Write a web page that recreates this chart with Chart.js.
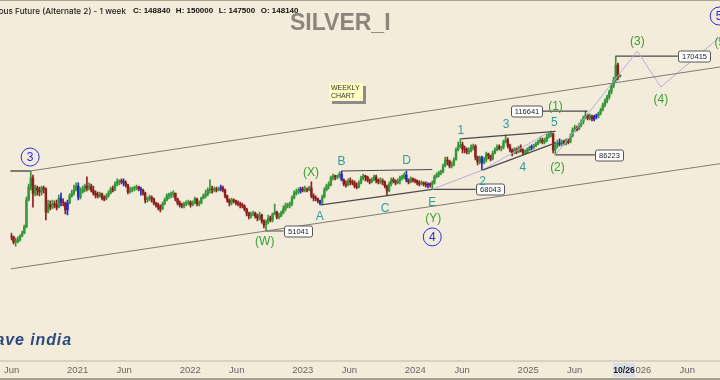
<!DOCTYPE html>
<html lang="en">
<head>
  <meta charset="UTF-8" />
  <title>SILVER_I - 1 week</title>
  <script src="https://cdn.jsdelivr.net/npm/chart.js"></script>
  <style>
    html, body { margin: 0; padding: 0; background: #f4ecda; }
    #wrap { position: relative; width: 720px; height: 380px; overflow: hidden; background: #f4ecda; }
    #chart { position: absolute; left: 0; top: 0; }
    .txt { position: absolute; white-space: nowrap; line-height: 1; }
    #topline { position: absolute; left: 0; top: 0; width: 720px; height: 1px; background: #aaa396; }
    #title { top: 6px; right: 594px; font: 500 8.2px Inter, "Liberation Sans", sans-serif; color: #1d1d1d; }
    #ohlc { top: 6px; left: 133px; font: bold 8px "Liberation Sans", Arial, sans-serif; color: #111; }
    #ohlc span { margin-right: 5.5px; }
    #symbol { top: 9px; left: 290px; font: bold 23px "Liberation Sans", Arial, sans-serif; color: #8b857c; }
    #note { left: 329px; top: 83px; width: 30px; height: 16px; padding: 1px 2px; background: #ffffc2;
            box-shadow: 3px 3px 0 #8c8c8c; font: 7px "Liberation Sans", sans-serif; line-height: 8px; color: #333; }
    #logo { top: 331px; right: 648px; font: italic bold 16px "Liberation Sans", sans-serif; color: #2d4a7c; letter-spacing: 0.9px; }
    #axisTop { position: absolute; left: 0; top: 360px; width: 720px; height: 2px; background: #d9d2c3; }
    #axisBottom { position: absolute; left: 0; top: 378px; width: 720px; height: 2px; background: #a69f93; }
  </style>
</head>
<body>
  <div id="wrap">
    <canvas id="chart" width="720" height="380"></canvas>
    <div id="topline"></div>
    <div id="axisTop"></div>
    <div id="axisBottom"></div>
    <div class="txt" id="title">Silver Continuous Future (Alternate 2) - 1 week</div>
    <div class="txt" id="ohlc"><span>C: 148840</span><span>H: 150000</span><span>L: 147500</span><span>O: 148140</span></div>
    <div class="txt" id="symbol">SILVER_I</div>
    <div class="txt" id="note">WEEKLY<br>CHART</div>
    <div class="txt" id="logo">wave india</div>
  </div>

  <script>
    // weekly bars, prices in thousands of rupees; each open is the previous week's close
    const firstWeek = '2020-05-24';
    const firstOpen = 49.0;

    const closes = [
      49.3,49.0,47.3,47.6,48.0,49.3,50.3,52.5,63.2,69.1,
      73.6,66.3,68.7,67.7,66.8,68.7,68.2,58.2,61.1,60.2,
      61.5,61.1,60.2,64.1,62.3,61.9,59.0,61.9,65.0,66.3,
      67.7,69.6,64.5,66.8,68.2,69.6,68.7,69.6,67.7,66.3,
      65.4,65.0,65.9,64.1,63.7,65.0,66.3,68.2,67.7,70.6,
      71.6,72.1,71.6,71.1,70.1,66.8,67.7,68.2,68.7,69.1,
      68.2,67.7,66.3,63.2,63.7,64.5,63.7,61.9,61.1,60.2,
      59.4,61.5,63.2,65.0,65.4,65.9,66.3,63.7,61.9,61.1,
      60.7,61.5,61.9,62.3,61.1,61.9,63.7,61.5,61.9,64.1,
      65.0,65.9,67.7,68.2,67.7,68.2,67.7,68.2,68.7,67.7,
      65.0,63.2,61.9,63.2,62.8,61.9,61.5,61.1,60.7,59.4,
      57.8,56.6,57.4,57.8,56.6,55.8,57.0,54.7,53.2,54.3,
      55.8,55.1,57.4,58.2,56.2,56.6,57.8,59.4,60.7,61.1,
      61.5,64.1,66.3,66.8,67.3,68.2,67.7,68.2,67.7,68.7,
      65.0,64.1,63.7,62.8,61.9,64.5,67.7,69.6,70.1,73.6,
      74.6,74.1,74.6,75.6,72.6,70.6,70.1,72.1,71.6,71.1,
      69.6,69.1,71.1,73.6,74.6,74.1,72.6,71.6,72.6,74.1,
      72.6,71.6,72.1,71.6,69.6,67.3,70.6,72.6,72.1,71.1,
      72.1,73.6,74.1,75.1,72.6,71.6,73.1,72.6,72.1,71.1,
      70.6,71.1,70.6,70.1,70.6,70.1,71.1,74.1,75.1,76.2,
      76.7,79.9,83.3,82.7,79.9,80.5,83.3,89.3,91.7,92.4,
      89.9,89.3,88.0,88.6,90.5,91.7,85.0,82.2,84.5,81.6,
      83.3,86.8,85.6,83.9,87.4,89.3,91.1,90.5,91.1,94.3,
      95.6,91.7,89.3,87.4,89.3,88.0,90.5,89.3,87.4,88.0,
      89.3,90.5,91.1,91.7,93.0,94.3,95.6,94.3,95.0,97.6,
      99.0,99.7,89.3,91.7,93.7,93.0,94.3,93.7,95.0,94.3,
      98.3,102.4,103.9,103.2,106.0,108.3,111.3,113.6,111.3,112.8,
      110.5,112.1,112.8,115.2,117.6,121.7,125.1,128.6,133.1,138.8,
      144.6,160.4,148.14,148.84
    ];
    const highs = [
      50.3,50.3,49.3,48.6,49.0,49.7,51.0,53.2,64.5,70.6,
      77.2,75.1,70.1,69.6,69.1,69.6,69.6,68.7,63.2,62.8,
      63.2,62.8,63.2,65.4,66.3,63.7,62.3,63.2,65.9,67.7,
      70.1,71.1,71.1,68.7,69.6,70.6,74.1,71.1,70.6,69.6,
      67.3,66.8,66.8,66.3,65.0,65.9,67.3,69.1,69.6,71.6,
      73.1,72.6,73.1,73.1,72.1,70.6,69.1,69.1,69.6,70.1,
      69.6,69.1,68.2,66.8,64.5,65.4,65.0,64.1,62.3,61.9,
      61.1,62.3,64.1,65.9,66.3,66.8,67.3,66.3,64.1,62.8,
      61.9,62.3,62.8,63.2,62.8,62.8,64.5,64.1,62.8,64.5,
      65.9,67.7,68.7,72.6,69.6,69.1,69.1,69.1,70.1,69.6,
      68.2,65.4,63.7,64.1,63.7,63.2,62.8,62.3,61.9,61.1,
      59.8,58.2,58.2,58.6,58.2,57.4,58.2,57.4,55.1,55.1,
      57.0,56.6,57.8,61.5,58.6,57.8,58.6,60.7,61.9,61.9,
      62.3,65.0,67.3,68.2,68.7,69.1,69.1,69.6,68.7,69.6,
      71.6,65.9,65.0,64.1,63.2,65.4,68.7,70.6,71.6,74.6,
      75.6,75.1,75.1,76.7,77.2,73.1,72.1,73.1,73.6,72.6,
      72.1,71.1,72.1,74.6,75.6,75.1,74.6,73.1,73.6,75.1,
      75.1,73.1,73.6,73.1,72.1,70.1,71.6,73.6,73.6,72.6,
      73.1,74.6,75.1,76.2,77.2,73.1,74.1,73.6,73.1,72.6,
      72.1,72.1,71.6,71.6,71.1,71.1,72.1,75.1,76.2,77.2,
      77.7,81.0,85.0,85.0,83.3,82.2,84.5,90.5,94.3,96.3,
      94.3,91.7,90.5,90.5,92.4,93.0,92.4,85.6,85.6,85.6,
      85.0,88.0,87.4,86.2,88.6,90.5,92.4,92.4,91.7,95.6,
      99.0,96.9,93.0,89.9,90.5,90.5,91.7,92.4,89.9,89.3,
      90.5,91.7,92.4,93.0,94.3,95.6,97.6,96.9,96.9,99.7,
      100.3,101.7,100.3,94.3,95.6,96.3,95.6,95.6,96.3,96.3,
      99.7,103.9,106.0,105.3,107.5,109.8,112.8,116.64,114.4,114.4,
      113.6,113.6,114.4,116.0,119.2,123.4,126.9,130.4,135.0,140.7,
      147.6,170.415,162.6,150.0
    ];
    const lows = [
      48.3,48.0,46.7,46.0,47.0,47.6,49.0,50.0,52.1,62.8,
      67.7,60.2,65.0,65.4,65.0,65.4,66.3,55.1,57.8,59.0,
      59.4,59.8,59.0,59.8,60.7,60.7,57.4,57.0,61.5,64.5,
      65.4,67.3,63.2,63.7,66.3,66.8,67.3,67.7,66.8,65.4,
      64.1,64.1,64.5,63.2,62.8,63.2,64.5,65.9,66.8,67.3,
      69.6,70.1,70.6,69.6,69.1,65.9,66.3,66.8,67.3,67.7,
      67.3,65.4,65.4,61.9,62.3,62.8,62.3,61.1,60.2,59.0,
      58.2,59.0,61.1,62.8,63.7,64.1,64.5,62.8,61.1,60.2,
      59.8,59.8,60.7,61.1,60.2,60.7,61.5,60.7,60.7,61.5,
      63.7,64.1,65.0,66.3,66.3,66.8,66.8,67.3,67.3,66.8,
      64.1,62.3,60.7,61.1,61.9,61.1,60.7,59.8,59.8,58.6,
      56.6,55.5,55.8,56.6,55.8,54.7,55.1,53.9,52.1,51.041,
      53.6,54.3,54.3,57.0,55.5,55.5,56.2,57.4,58.6,59.8,
      59.8,60.7,63.7,65.4,65.9,66.3,66.8,66.8,66.8,67.3,
      64.1,62.8,62.8,61.9,61.1,61.1,64.1,67.3,68.2,69.6,
      72.6,72.6,73.1,73.6,72.1,69.6,69.1,69.6,70.1,70.1,
      68.7,68.2,68.7,70.6,72.6,72.1,71.6,70.6,71.1,72.1,
      71.1,70.6,70.6,70.1,68.7,65.4,66.8,69.6,71.1,70.1,
      70.6,70.6,72.6,73.1,71.6,70.6,71.1,71.6,71.1,70.1,
      69.6,70.1,69.6,69.1,68.7,69.1,68.043,70.6,73.6,74.1,
      75.1,76.2,79.4,80.5,78.8,78.8,79.9,83.3,88.6,90.5,
      87.4,87.4,86.8,86.8,88.0,89.3,83.3,80.5,81.0,77.7,
      81.0,82.2,83.9,82.7,83.3,86.8,88.6,89.3,88.6,89.9,
      93.7,90.5,88.0,85.6,86.8,86.8,87.4,88.0,86.2,86.8,
      87.4,88.6,89.3,89.9,91.1,92.4,93.7,93.0,93.0,94.3,
      96.9,97.6,87.4,86.223,90.5,91.7,91.7,92.4,92.4,93.0,
      93.7,97.6,101.0,101.7,102.4,104.6,106.8,110.5,109.8,109.8,
      109.0,109.0,110.5,111.3,113.6,116.8,120.1,123.4,126.9,131.3,
      136.9,142.6,144.6,147.5
    ];
    const blueBars = [24, 27, 32, 53, 61, 98, 135, 144, 154, 184, 194, 219, 242, 255, 271, 272];

    // time axis
    const tickDates = ['2020-06-01','2021-01-01','2021-06-01','2022-01-01','2022-06-01','2023-01-01','2023-06-01',
                       '2024-01-01','2024-06-01','2025-01-01','2025-06-01','2026-01-01','2026-06-01'];
    const tickLabels = ['Jun','2021','Jun','2022','Jun','2023','Jun','2024','Jun','2025','Jun','2026','Jun'];
    const cursorWeek = 283;
    const cursorLabel = '10/26';

    // drawn lines: [week, price]
    const top3Line = [[0, 77.2], [9.7, 77.2]];
    const upperChannel = [[9.7, 77.2], [329.3, 158.2]];
    const lowerChannel = [[0.6, 39.3], [329.3, 81.2]];
    const lineAE = [[144.5, 61.1], [196, 68.04]];
    const lineBD = [[154, 77.2], [196, 78.0]];
    const line135 = [[209.2, 96.3], [253.1, 101.4]];
    const line24 = [[219.3, 77.7], [253.1, 93.7]];
    const pathE5 = [[196, 68.04], [219.3, 77.7], [251, 101.7]];
    const pathProjection = [[253.1, 86.223], [291.0, 176.5], [301.9, 137.8], [329.3, 194.5]];

    // price level tags
    const levelValues = [51041, 68043, 86223, 116641, 170415];
    const levelFrom = [119, 196, 253.1, 268, 281];
    const levelBoxAt = [127.1, 216.1, 271.3, 246.7, 309.7];
    const levelBoxSide = ['left', 'left', 'left', 'right', 'left'];

    // wave counts
    const waveText  = ['3','(W)','(X)','A','B','C','D','E','(Y)','4','1','2','3','4','5','(1)','(2)','(3)','(4)','(5)','5'];
    const waveWeek  = [9.7,118.4,139.8,143.9,154.0,174.1,184.1,196.0,196.5,196.0,209.2,219.3,230.2,238.0,252.6,253.1,254.0,291.0,301.9,330.2,328.9];
    const wavePrice = [85.0,47.65,76.7,56.6,82.7,59.8,83.3,62.3,55.8,49.0,102.4,72.1,106.8,79.4,108.25,120.9,79.4,189.2,126.9,187.9,224.8];
    const waveStyle = ['circle','green','green','teal','teal','teal','teal','teal','green','circle',
                       'teal','teal','teal','teal','teal','green','green','green','green','green','circle'];
    const waveColors = { teal: '#2c9d9d', green: '#36a036', circle: '#2a2ae6' };

    const weekMs = 7 * 864e5;
    const weekOf = d => (Date.parse(d) - Date.parse(firstWeek)) / weekMs;

    const opens = closes.map((c, i) => i === 0 ? firstOpen : closes[i - 1]);
    const barColor = closes.map((c, i) =>
      blueBars.includes(i) ? '#2626c8' : (c >= opens[i] ? '#35963a' : '#8e1d1d'));

    const seg = (pts, color, width) => ({
      type: 'line',
      data: pts.map(([w, p]) => ({ x: w, y: p })),
      borderColor: color,
      borderWidth: width,
      pointRadius: 0,
      tension: 0,
      order: 1
    });

    const datasets = [
      {
        type: 'bar',
        data: closes.map((c, i) => ({ x: i, y: [lows[i], highs[i]] })),
        backgroundColor: barColor,
        barThickness: 1,
        grouped: false,
        order: 3
      },
      {
        type: 'bar',
        data: closes.map((c, i) => ({ x: i, y: [opens[i], c] })),
        backgroundColor: barColor,
        barThickness: 1.8,
        minBarLength: 1,
        grouped: false,
        order: 2
      },
      seg(top3Line, '#555555', 1.5),
      seg(upperChannel, '#7f7b74', 1),
      seg(lowerChannel, '#7f7b74', 1),
      seg(lineAE, '#4a4a4a', 1.2),
      seg(lineBD, '#4a4a4a', 1.2),
      seg(line135, '#4a4a4a', 1.2),
      seg(line24, '#4a4a4a', 1.2),
      seg(pathE5, '#b4ade0', 1),
      seg(pathProjection, '#b4ade0', 1)
    ];
    levelValues.forEach((v, k) => {
      datasets.push(seg([[levelFrom[k], v / 1000], [levelBoxAt[k], v / 1000]], '#4a4a4a', 1.2));
    });

    const overlay = {
      id: 'overlay',
      afterDatasetsDraw(chart) {
        const { ctx, scales: { x, y } } = chart;
        ctx.save();
        ctx.textBaseline = 'middle';
        ctx.textAlign = 'center';
        ctx.font = '7.5px "Liberation Sans", Arial, sans-serif';
        levelValues.forEach((v, k) => {
          const px = x.getPixelForValue(levelBoxAt[k]);
          const py = Math.round(y.getPixelForValue(v / 1000)) + 0.5;
          const label = String(v);
          const w = Math.round(ctx.measureText(label).width) + 7;
          const h = 11;
          const left = Math.round(levelBoxSide[k] === 'right' ? px - w : px) + 0.5;
          ctx.beginPath();
          if (ctx.roundRect) ctx.roundRect(left, py - h / 2, w, h, 2); else ctx.rect(left, py - h / 2, w, h);
          ctx.fillStyle = '#ffffff';
          ctx.fill();
          ctx.strokeStyle = '#555555';
          ctx.lineWidth = 1;
          ctx.stroke();
          ctx.fillStyle = '#222222';
          ctx.fillText(label, left + w / 2, py + 0.5);
        });

        ctx.font = '12px "Liberation Sans", Arial, sans-serif';
        waveText.forEach((t, k) => {
          const px = x.getPixelForValue(waveWeek[k]);
          const py = y.getPixelForValue(wavePrice[k]);
          const st = waveStyle[k];
          if (st === 'circle') {
            ctx.beginPath();
            ctx.arc(px, py, 9, 0, Math.PI * 2);
            ctx.strokeStyle = waveColors.circle;
            ctx.lineWidth = 1;
            ctx.stroke();
          }
          ctx.fillStyle = waveColors[st];
          ctx.fillText(t, px, py + 1);
        });
        ctx.restore();
      },
      afterDraw(chart) {
        const { ctx, scales: { x } } = chart;
        const px = Math.round(x.getPixelForValue(cursorWeek));
        ctx.save();
        ctx.fillStyle = '#d9dee7';
        ctx.fillRect(px - 7, 363, 22, 14);
        ctx.fillStyle = '#222';
        ctx.font = 'bold 8.5px "Liberation Sans Narrow", "Liberation Sans", sans-serif';
        ctx.textAlign = 'center';
        ctx.textBaseline = 'middle';
        ctx.fillText(cursorLabel, px + 4, 370.5);
        ctx.restore();
      }
    };

    new Chart(document.getElementById('chart').getContext('2d'), {
      type: 'bar',
      data: { datasets },
      options: {
        responsive: false,
        animation: false,
        events: [],
        layout: { autoPadding: false, padding: { left: 0, right: 0, top: 0, bottom: 3 } },
        plugins: { legend: { display: false }, tooltip: { enabled: false } },
        scales: {
          x: {
            type: 'linear',
            min: 0.6,
            max: 329.3,
            bounds: 'data',
            offset: false,
            grid: { display: false, drawTicks: false },
            border: { display: false },
            afterBuildTicks: scale => { scale.ticks = tickDates.map(d => ({ value: weekOf(d) })); },
            afterFit: scale => { scale.height = 16; },
            ticks: {
              autoSkip: false,
              maxRotation: 0,
              padding: 4,
              color: '#666',
              font: { family: '"Liberation Sans Narrow", "Liberation Sans", sans-serif', size: 9.5 },
              callback: (v, idx) => tickLabels[idx]
            }
          },
          y: {
            type: 'logarithmic',
            display: false,
            bounds: 'data',
            min: 20.823,
            max: 251.07
          }
        }
      },
      plugins: [overlay]
    });
  </script>
</body>
</html>
